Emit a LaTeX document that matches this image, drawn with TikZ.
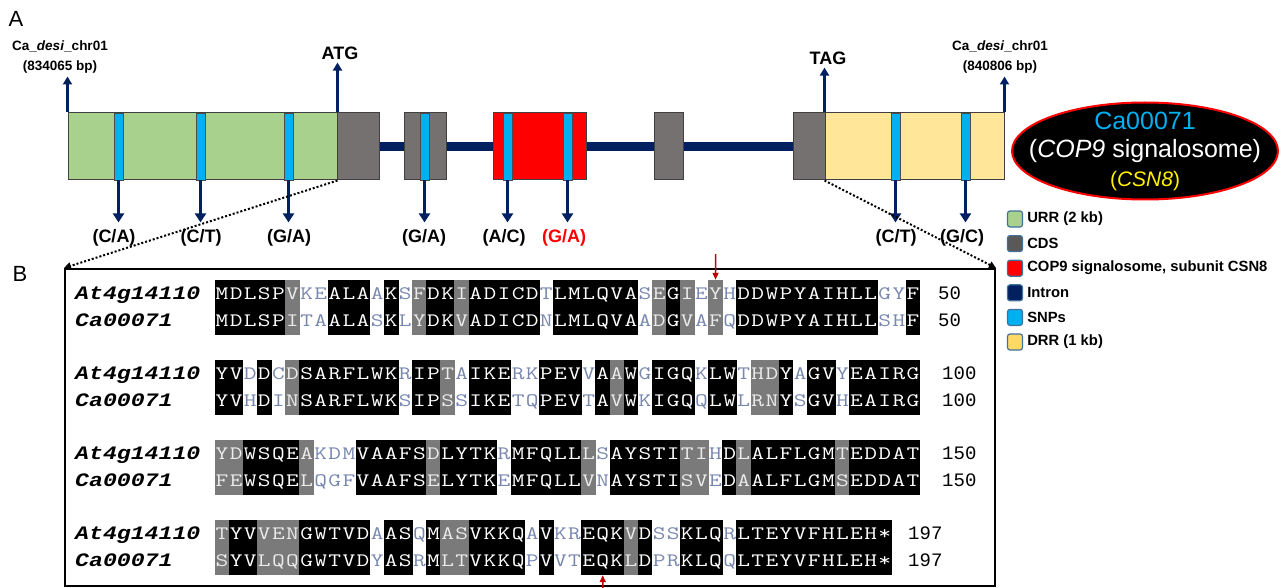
\documentclass[tikz,border=0pt]{standalone}
\usepackage{fontspec}
\setmainfont{Liberation Sans}
\newfontfamily\seqfont[FakeStretch=1.3]{Latin Modern Mono}
\newfontfamily\namefont[FakeStretch=1.22]{Liberation Mono}
\newfontfamily\numfont{Liberation Mono}
\usetikzlibrary{arrows.meta,shapes.geometric,positioning}
\definecolor{urrgreen}{HTML}{A9D18E}
\definecolor{cdsgray}{HTML}{767171}
\definecolor{cdsdark}{HTML}{595959}
\definecolor{csnred}{HTML}{FF0000}
\definecolor{intronblue}{HTML}{002060}
\definecolor{snpcyan}{HTML}{00B0F0}
\definecolor{drryellow}{HTML}{FFE699}
\definecolor{drrlegend}{HTML}{FFD966}
\definecolor{legedge}{HTML}{41719C}
\definecolor{palefg}{RGB}{120,135,175}
\definecolor{mutred}{HTML}{C00000}

\begin{document}
\begin{tikzpicture}[x=1pt,y=-1pt,
  exon/.style={draw=black!75,line width=1pt,minimum height=67pt,inner sep=0pt},
  snp/.style={draw=black!70,fill=snpcyan,line width=0.8pt,minimum width=9pt,minimum height=67pt,inner sep=0pt},
  intron/.style={intronblue,line width=9pt},
  downarr/.style={intronblue,line width=3pt,-{Triangle[width=11pt,length=9pt]},shorten >=6pt},
  uparr/.style={intronblue,line width=2.2pt,-{Triangle[width=9pt,length=8pt]},shorten >=2pt},
  allele/.style={font=\bfseries\fontsize{18}{18}\selectfont,inner sep=1pt},
  chrlab/.style={font=\bfseries\fontsize{13.5}{20}\selectfont,align=center,inner sep=1pt},
  codon/.style={font=\bfseries\fontsize{18}{18}\selectfont,inner sep=1pt},
  dotarr/.style={line width=2pt,dash pattern=on 2pt off 2pt,-{Triangle[width=7pt,length=7pt]}},
  legsq/.style={draw=legedge,line width=1.2pt,rounded corners=2.5pt,minimum width=15pt,minimum height=16pt,inner sep=0pt},
  legtxt/.style={font=\bfseries\fontsize{14.8}{14.8}\selectfont,inner sep=1pt,anchor=west},
  cell/.style={minimum width=14.6pt,minimum height=55pt,inner sep=0pt,draw=none},
  shk/.style={fill=black}, shg/.style={fill=black!52}, shw/.style={},
  res/.style={font=\seqfont\fontsize{19}{19}\selectfont,inner sep=0pt,anchor=base},
  txk/.style={text=white}, txg/.style={text=black!8}, txw/.style={text=palefg},
  seqname/.style={font=\namefont\bfseries\itshape\fontsize{19}{19}\selectfont,inner sep=0pt,anchor=base west},
  seqnum/.style={font=\numfont\fontsize{19}{19}\selectfont,inner sep=0pt,anchor=base west},
  mutarr/.style={mutred,line width=1.5pt,-{Triangle[width=6pt,length=7pt]}}]
  \useasboundingbox (0,0) rectangle (1282,588);

  % panel letters
  \node[font=\fontsize{22}{22}\selectfont] (pA) at (16,19) {A};
  \node[font=\fontsize{22}{22}\selectfont] (pB) at (20,274) {B};

  % gene model
  \node[exon,fill=urrgreen,minimum width=269pt] (urr) at (202.5,146.5) {};
  \node[exon,fill=cdsgray,minimum width=42pt] (cdsA) at (358,146.5) {};
  \node[exon,fill=cdsgray,minimum width=42pt] (cdsB) at (425,146.5) {};
  \node[exon,fill=csnred,minimum width=93pt] (csn) at (539.5,146.5) {};
  \node[exon,fill=cdsgray,minimum width=29pt] (cdsC) at (668.5,146.5) {};
  \node[exon,fill=cdsgray,minimum width=32pt] (cdsD) at (809,146.5) {};
  \node[exon,fill=drryellow,minimum width=179pt] (drr) at (914.5,146.5) {};
  \draw[intron] (cdsA) -- (cdsB);
  \draw[intron] (cdsB) -- (csn);
  \draw[intron] (csn) -- (cdsC);
  \draw[intron] (cdsC) -- (cdsD);

  % SNPs
  \foreach \sx/\lx/\al/\ac [count=\k] in {118.5/114/{(C/A)}/black,200.5/201/{(C/T)}/black,288.5/289/{(G/A)}/black,424.5/424/{(G/A)}/black,507.5/504/{(A/C)}/black,567.5/564/{(G/A)}/csnred,895.5/896/{(C/T)}/black,965.5/962/{(G/C)}/black}{
    \node[snp] (snp\k) at (\sx,146.5) {};
    \node[allele,text=\ac] (al\k) at (\lx,238) {\al};
    \draw[downarr] (snp\k.south) -- (snp\k.south |- al\k.north);
  }

  % start, stop and borders
  \node[chrlab] (chrL) at (60,57) {Ca\_\textit{desi}\_chr01\\(834065 bp)};
  \node[chrlab] (chrR) at (1000,57) {Ca\_\textit{desi}\_chr01\\(840806 bp)};
  \node[codon] (atg) at (340,53) {ATG};
  \node[codon] (tag) at (828,58) {TAG};
  \draw[uparr] (urr.north west) -- (urr.north west |- chrL.south);
  \draw[uparr] (urr.north east) -- (urr.north east |- atg.south);
  \draw[uparr] (drr.north west) -- (drr.north west |- tag.south);
  \draw[uparr] (drr.north east) -- (drr.north east |- chrR.south);

  % gene name
  \node[ellipse,fill=black,draw=csnred,line width=2pt,minimum width=266pt,minimum height=97pt,inner sep=0pt] (gene) at (1145,151) {};
  \node[align=center,text=white,inner sep=0pt,font=\fontsize{25}{28.5}\selectfont] (genetxt) at (gene.center) {\textcolor{snpcyan}{Ca00071}\\(\textit{COP9} signalosome)\\{\fontsize{21}{26}\selectfont\textcolor{yellow}{(\textit{CSN8})}}};

  % legend
  \foreach \lc/\lt [count=\k] in {urrgreen/{URR (2 kb)},cdsdark/CDS,csnred/{COP9 signalosome, subunit CSN8},intronblue/Intron,snpcyan/SNPs,drrlegend/{DRR (1 kb)}}{
    \node[legsq,fill=\lc] (lg\k) at (1015,{219+24.6*(\k-1)}) {};
    \node[legtxt,right=3pt of lg\k] (lt\k) {\lt};
  }

  % alignment frame
  \node[draw,line width=2pt,minimum width=930pt,minimum height=317pt,inner sep=0pt] (frameB) at (530,427.5) {};
  \draw[dotarr] (urr.south east) -- (frameB.north west);
  \draw[dotarr] (drr.south west) -- (frameB.north east);

  \foreach \b in {0,1,2,3}{
    \node[seqname] (atname\b) at (75,{299.5+80*\b}) {At4g14110};
    \node[seqname] (caname\b) at (75,{326.5+80*\b}) {Ca00071};
  }
  \node[seqnum] (atnum1) at (938,299.5) {50};
  \node[seqnum] (canum1) at (938,326.5) {50};
  \node[seqnum] (atnum2) at (942,379.5) {100};
  \node[seqnum] (canum2) at (942,406.5) {100};
  \node[seqnum] (atnum3) at (942,459.5) {150};
  \node[seqnum] (canum3) at (942,486.5) {150};
  \node[seqnum] (atnum4) at (908,539.5) {197};
  \node[seqnum] (canum4) at (908,566.5) {197};

  % block 1
  \foreach \ta/\tc/\sh [count=\i] in {M/M/k,D/D/k,L/L/k,S/S/k,P/P/k,V/I/g,K/T/w,E/A/w,A/A/k,L/L/k,A/A/k,A/S/w,K/K/k,S/L/w,F/Y/g,D/D/k,K/K/k,I/V/g,A/A/k,D/D/k,I/I/k,C/C/k,D/D/k,T/N/w,L/L/k,M/M/k,L/L/k,Q/Q/k,V/V/k,A/A/k,S/A/w,E/D/g,G/G/k,I/V/g,E/A/w,Y/F/g,H/Q/w,D/D/k,D/D/k,W/W/k,P/P/k,Y/Y/k,A/A/k,I/I/k,H/H/k,L/L/k,L/L/k,G/S/w,Y/H/w,F/F/k}{
    \node[cell,sh\sh] (c1-\i) at (207.95+14.1*\i,307.5) {};
    \node[res,tx\sh] (at1-\i) at (207.95+14.1*\i,299.5) {\ta};
    \node[res,tx\sh] (ca1-\i) at (207.95+14.1*\i,326.5) {\tc};
  }
  % block 2
  \foreach \ta/\tc/\sh [count=\i] in {Y/Y/k,V/V/k,D/H/w,D/D/k,C/I/w,D/N/g,S/S/k,A/A/k,R/R/k,F/F/k,L/L/k,W/W/k,K/K/k,R/S/w,I/I/k,P/P/k,T/S/g,A/S/w,I/I/k,K/K/k,E/E/k,R/T/w,K/Q/w,P/P/k,E/E/k,V/V/k,V/T/w,A/A/k,A/V/g,W/W/k,G/K/w,I/I/k,G/G/k,Q/Q/k,K/Q/w,L/L/k,W/W/k,T/L/w,H/R/g,D/N/g,Y/Y/k,A/S/w,G/G/k,V/V/k,Y/H/w,E/E/k,A/A/k,I/I/k,R/R/k,G/G/k}{
    \node[cell,sh\sh] (c2-\i) at (207.95+14.1*\i,387.5) {};
    \node[res,tx\sh] (at2-\i) at (207.95+14.1*\i,379.5) {\ta};
    \node[res,tx\sh] (ca2-\i) at (207.95+14.1*\i,406.5) {\tc};
  }
  % block 3
  \foreach \ta/\tc/\sh [count=\i] in {Y/F/g,D/E/g,W/W/k,S/S/k,Q/Q/k,E/E/k,A/L/g,K/Q/w,D/G/w,M/F/w,V/V/k,A/A/k,A/A/k,F/F/k,S/S/k,D/E/g,L/L/k,Y/Y/k,T/T/k,K/K/k,R/E/w,M/M/k,F/F/k,Q/Q/k,L/L/k,L/L/k,L/V/g,S/N/w,A/A/k,Y/Y/k,S/S/k,T/T/k,I/I/k,T/S/g,I/V/g,H/E/w,D/D/k,L/A/g,A/A/k,L/L/k,F/F/k,L/L/k,G/G/k,M/M/k,T/S/g,E/E/k,D/D/k,D/D/k,A/A/k,T/T/k}{
    \node[cell,sh\sh] (c3-\i) at (207.95+14.1*\i,467.5) {};
    \node[res,tx\sh] (at3-\i) at (207.95+14.1*\i,459.5) {\ta};
    \node[res,tx\sh] (ca3-\i) at (207.95+14.1*\i,486.5) {\tc};
  }
  % block 4
  \foreach \ta/\tc/\sh [count=\i] in {T/S/g,Y/Y/k,V/V/k,V/L/g,E/Q/g,N/Q/g,G/G/k,W/W/k,T/T/k,V/V/k,D/D/k,A/Y/w,A/A/k,S/S/k,Q/R/w,M/M/k,A/L/g,S/T/g,V/V/k,K/K/k,K/K/k,Q/Q/k,A/P/w,V/V/k,K/V/w,R/T/w,E/E/k,Q/Q/k,K/K/k,V/L/g,D/D/k,S/P/w,S/R/w,K/K/k,L/L/k,Q/Q/k,R/Q/w,L/L/k,T/T/k,E/E/k,Y/Y/k,V/V/k,F/F/k,H/H/k,L/L/k,E/E/k,H/H/k,*/*/k}{
    \node[cell,sh\sh] (c4-\i) at (207.95+14.1*\i,547.5) {};
    \node[res,tx\sh] (at4-\i) at (207.95+14.1*\i,539.5) {\ta};
    \node[res,tx\sh] (ca4-\i) at (207.95+14.1*\i,566.5) {\tc};
  }

  % marked residues
  \coordinate (mutA) at (715.55,254);
  \draw[mutarr] (mutA) -- (c1-36.north);
  \coordinate (mutB) at (602.75,592);
  \draw[mutarr] (mutB) -- (c4-28.south);
\end{tikzpicture}
\end{document}
